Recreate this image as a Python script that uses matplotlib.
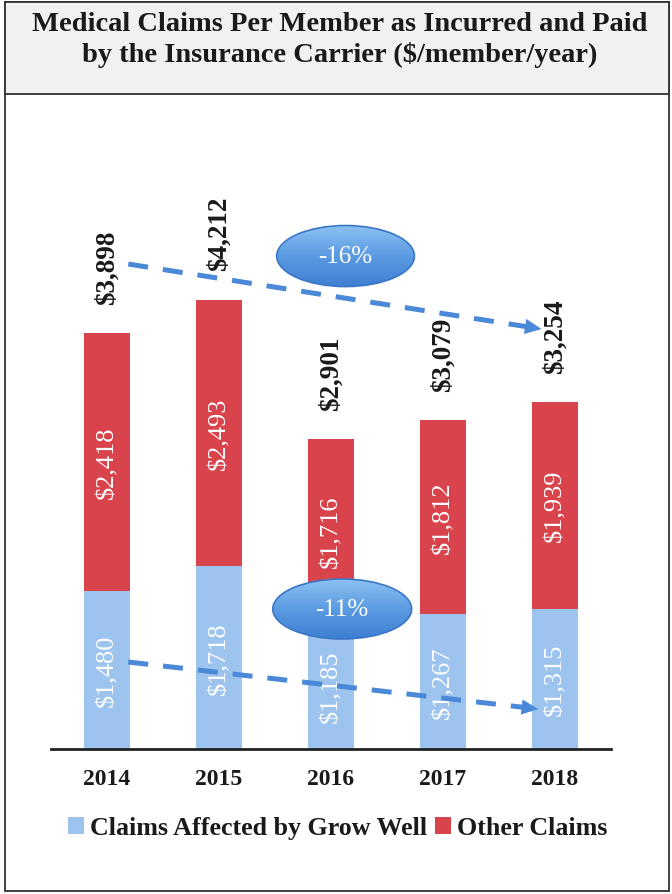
import matplotlib
matplotlib.use("Agg")
import matplotlib.pyplot as plt
import numpy as np
from matplotlib.patches import Ellipse, Rectangle
from matplotlib.lines import Line2D
from matplotlib.colors import LinearSegmentedColormap

years = ["2014", "2015", "2016", "2017", "2018"]
grow_well = [1480, 1718, 1185, 1267, 1315]
other = [2418, 2493, 1716, 1812, 1939]
totals = [3898, 4212, 2901, 3079, 3254]
series_names = ["Claims Affected by Grow Well", "Other Claims"]
title = "Medical Claims Per Member as Incurred and Paid\nby the Insurance Carrier ($/member/year)"
upper_change = "-16%"
lower_change = "-11%"

BLUE = "#9dc4ee"
RED = "#d9434b"
ARROW = "#4a88d8"
SERIF = ["Liberation Serif", "DejaVu Serif"]

plt.rcParams["font.family"] = SERIF

W, H = 672, 895
fig = plt.figure(figsize=(W / 100, H / 100), dpi=100)
fig.patch.set_facecolor("white")

# outer frame and title box
fig.add_artist(Rectangle((5 / W, 3 / H), (669 - 5) / W, (892 - 3) / H,
                         transform=fig.transFigure, facecolor="none",
                         edgecolor="#333333", lw=1.3, zorder=0))
fig.add_artist(Rectangle((5 / W, 1 - 95 / H), (669 - 5) / W, (95 - 3) / H,
                         transform=fig.transFigure, facecolor="#f1f1f1",
                         edgecolor="#333333", lw=1.3, zorder=0))
fig.text(0.505, 1 - 40 / H, title, ha="center", va="center",
         fontsize=20.5, fontweight="bold", color="#1a1a1a",
         linespacing=1.28, family=SERIF)

ax = fig.add_axes([51 / W, (H - 750) / H, (611 - 51) / W, 533.5 / H])
x = np.arange(len(years))
bw = 0.41
ax.bar(x, grow_well, bw, color=BLUE, label=series_names[0], zorder=2)
ax.bar(x, other, bw, bottom=grow_well, color=RED, label=series_names[1], zorder=2)
ax.set_xlim(-0.5, len(years) - 0.5)
ax.set_ylim(0, 5000)
ax.set_yticks([])
ax.set_xticks(x)
ax.set_xticklabels(years, fontsize=17, fontweight="bold", color="#1a1a1a")
ax.tick_params(axis="x", length=0, pad=14)
for s in ["left", "right", "top"]:
    ax.spines[s].set_visible(False)
ax.spines["bottom"].set_color("#222222")
ax.spines["bottom"].set_linewidth(2)
ax.set_facecolor("none")

for i in range(len(years)):
    ax.text(x[i], grow_well[i] / 2, f"${grow_well[i]:,}", rotation=90,
            ha="center", va="center", color="white", fontsize=19, zorder=3)
    ax.text(x[i], grow_well[i] + other[i] / 2, f"${other[i]:,}", rotation=90,
            ha="center", va="center", color="white", fontsize=19, zorder=3)
    ax.annotate(f"${totals[i]:,}", (x[i], totals[i]), xytext=(0, 21),
                textcoords="offset points", rotation=90, ha="center",
                va="bottom", fontsize=19.5, fontweight="bold",
                color="#1a1a1a", annotation_clip=False, zorder=3)


def dashed_arrow(x0, y0, x1, y1):
    dx, dy = x1 - x0, y1 - y0
    ln = Line2D([x0, x1 - 0.035 * dx], [y0, y1 - 0.035 * dy],
                color=ARROW, lw=3.6, dashes=(4, 3),
                dash_capstyle="butt", zorder=4, clip_on=False)
    ax.add_line(ln)
    ax.annotate("", xy=(x1, y1), xytext=(x1 - 0.02 * dx, y1 - 0.02 * dy),
                arrowprops=dict(arrowstyle="-|>,head_length=1.2,head_width=0.55",
                                color=ARROW, lw=0, shrinkA=0, shrinkB=0),
                annotation_clip=False, zorder=4)


def oval(cx, cy, w, h, label):
    cmap = LinearSegmentedColormap.from_list("ov", ["#8cc0f2", "#5b9be2", "#3f7fd2"])
    e = Ellipse((cx, cy), w, h, facecolor="none", edgecolor="#3a77c6",
                lw=1.2, zorder=6, clip_on=False)
    ax.add_patch(e)
    grad = np.linspace(0, 1, 100).reshape(-1, 1)
    im = ax.imshow(grad, cmap=cmap, aspect="auto", origin="upper",
                   extent=(cx - w / 2, cx + w / 2, cy - h / 2, cy + h / 2),
                   zorder=5, clip_on=True)
    im.set_clip_path(e)
    ax.text(cx, cy, label, ha="center", va="center", color="white",
            fontsize=18, zorder=7)


dashed_arrow(0.19, 4545, 3.88, 3936)
dashed_arrow(0.19, 815, 3.85, 375)
oval(2.13, 4620, 1.23, 572, upper_change)
oval(2.10, 1312, 1.24, 562, lower_change)
ax.set_xlim(-0.5, len(years) - 0.5)
ax.set_ylim(0, 5000)

handles, labels = ax.get_legend_handles_labels()
leg = fig.legend(handles, labels, loc="center", bbox_to_anchor=(0.503, (H - 829) / H),
                 ncol=2, frameon=False, handlelength=0.6, handleheight=0.6,
                 handletextpad=0.25, columnspacing=0.3,
                 prop={"family": SERIF, "weight": "bold", "size": 18.7})
for t in leg.get_texts():
    t.set_color("#1a1a1a")

fig.savefig("out.png", dpi=100)
